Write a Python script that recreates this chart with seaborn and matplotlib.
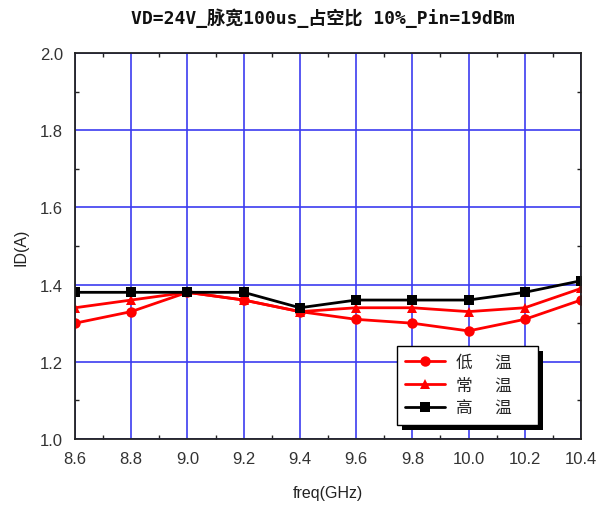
import matplotlib
matplotlib.use('Agg')
import matplotlib.pyplot as plt
import seaborn as sns
import pandas as pd
from matplotlib.ticker import MultipleLocator, FormatStrFormatter
from matplotlib.lines import Line2D
from matplotlib.patches import Rectangle
from matplotlib.transforms import IdentityTransform

freq = [8.6, 8.8, 9.0, 9.2, 9.4, 9.6, 9.8, 10.0, 10.2, 10.4]
low_temp = [1.30, 1.33, 1.38, 1.36, 1.33, 1.31, 1.30, 1.28, 1.31, 1.36]
room_temp = [1.34, 1.36, 1.38, 1.36, 1.33, 1.34, 1.34, 1.33, 1.34, 1.39]
high_temp = [1.38, 1.38, 1.38, 1.38, 1.34, 1.36, 1.36, 1.36, 1.38, 1.41]
series_names = ['低      温', '常      温', '高      温']
title = 'VD=24V_脉宽100us_占空比 10%_Pin=19dBm'
xlabel = 'freq(GHz)'
ylabel = 'ID(A)'

rows = []
for name, vals in zip(series_names, [low_temp, room_temp, high_temp]):
    for f, v in zip(freq, vals):
        rows.append({'freq': f, 'ID': v, 'series': name})
df = pd.DataFrame(rows)

sns.set_theme(style='white')
plt.rcParams['font.family'] = ['Liberation Sans', 'Noto Sans CJK SC', 'DejaVu Sans']

fig = plt.figure(figsize=(5.98, 5.06), dpi=100)
ax = fig.add_axes([75/598, 1-440/506, (581-75)/598, (440-54)/506])

colors = {series_names[0]: '#ff0000', series_names[1]: '#ff0000', series_names[2]: '#000000'}
markers = {series_names[0]: 'o', series_names[1]: '^', series_names[2]: 's'}
sns.lineplot(data=df, x='freq', y='ID', hue='series', style='series',
             palette=colors, markers=markers, dashes=False, markersize=7.5,
             markeredgewidth=0, linewidth=2, ax=ax, legend=False)

ax.set_xlim(8.6, 10.4)
ax.set_ylim(1.0, 2.0)
ax.xaxis.set_major_locator(MultipleLocator(0.2))
ax.yaxis.set_major_locator(MultipleLocator(0.2))
ax.xaxis.set_minor_locator(MultipleLocator(0.1))
ax.yaxis.set_minor_locator(MultipleLocator(0.1))
ax.xaxis.set_major_formatter(FormatStrFormatter('%.1f'))
ax.yaxis.set_major_formatter(FormatStrFormatter('%.1f'))
ax.grid(True, which='major', color='#3c3cf0', linewidth=1.2)
ax.set_axisbelow(True)
for s in ax.spines.values():
    s.set_color('#222222')
    s.set_linewidth(1.3)
    s.set_visible(True)
ax.tick_params(which='major', direction='out', length=5, width=1.2, color='#222222',
               labelsize=12, labelcolor='#333333', top=True, right=True)
ax.tick_params(which='minor', direction='in', length=3, width=1, color='#222222',
               bottom=True, left=True, top=True, right=True)
ax.tick_params(axis='x', which='major', top=False)
ax.tick_params(axis='y', which='major', right=False)

ax.set_xlabel(xlabel, fontsize=11.5, color='#222222', labelpad=14)
ax.set_ylabel(ylabel, fontsize=11.5, color='#222222', labelpad=8)
fig.text(323/598, 1-18/506, title, ha='center', va='center', fontsize=13,
         fontweight='bold', family=['DejaVu Sans Mono', 'Noto Sans CJK SC'], color='#111111')

handles = [Line2D([], [], color=colors[n], marker=markers[n], markersize=7.5,
                  markeredgewidth=0, linewidth=2) for n in series_names]
leg = ax.legend(handles, [n + '     ' for n in series_names], loc='upper left',
                bbox_to_anchor=((397-75)/506, (440-347)/386), borderaxespad=0,
                frameon=True, fancybox=False, shadow=False,
                edgecolor='black', framealpha=1, handlelength=2.4,
                handletextpad=0.7, labelspacing=0.38, borderpad=0.45,
                prop={'family': ['Noto Sans CJK SC', 'DejaVu Sans'], 'size': 12})
leg.get_frame().set_linewidth(1.0)

fig.canvas.draw()
bb = leg.get_frame().get_window_extent()
shadow = Rectangle((bb.x0 + 5, bb.y0 - 5), bb.width, bb.height, transform=IdentityTransform(),
                   facecolor='black', edgecolor='none', zorder=4.9, clip_on=False)
ax.add_artist(shadow)

fig.savefig('out.png', dpi=100)
